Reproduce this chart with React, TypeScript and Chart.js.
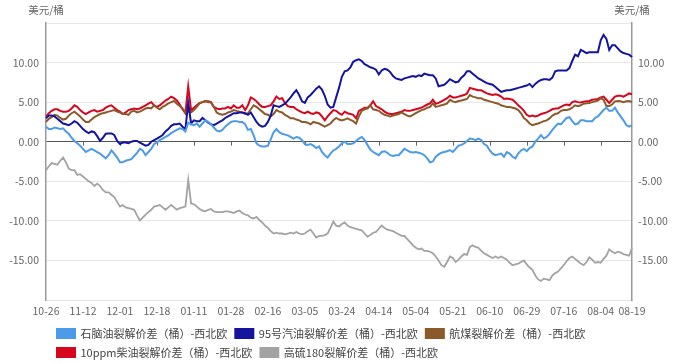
import React, { useEffect, useRef } from 'react';
import { Chart, registerables } from 'chart.js';

Chart.register(...registerables);

const FONT = "'Microsoft YaHei', 'Noto Sans CJK SC', 'Noto Sans', sans-serif";

// x-axis tick labels: one every 13 trading days, plus the final day
const tickLabels = ['10-26', '11-12', '12-01', '12-18', '01-11', '01-28', '02-16', '03-05', '03-24', '04-14', '05-04', '05-21', '06-10', '06-29', '07-16', '08-04'];
const lastLabel = '08-19';
const pointsPerTick = 13;
const totalPoints = 207;
const unitLabel = '美元/桶';

const seriesNames = [
  '石脑油裂解价差（桶）-西北欧',
  '95号汽油裂解价差（桶）-西北欧',
  '航煤裂解价差（桶）-西北欧',
  '10ppm柴油裂解价差（桶）-西北欧',
  '高硫180裂解价差（桶）-西北欧',
];

const naphtha = [
  1.9, 1.6, 1.6, 1.8, 1.7, 1.6, 1.7, 1.3, 1.0, 0.5, 0.1, -0.2, -0.5,
  -0.9, -1.3, -1.1, -0.9, -1.1, -1.3, -1.5, -1.8, -2.1, -1.7, -1.1, -1.5, -2.0,
  -2.6, -2.6, -2.4, -2.3, -2.2, -1.8, -1.4, -0.9, -1.1, -1.7, -1.3, -0.9, -0.3,
  -0.1, 0.2, 0.4, 0.6, 0.8, 1.1, 1.3, 1.5, 1.7, 1.6, 1.3, 2.4, 2.2,
  2.1, 2.3, 1.9, 2.3, 2.7, 2.5, 2.2, 1.8, 1.4, 1.3, 1.5, 1.9, 2.2,
  2.5, 2.6, 2.6, 2.5, 2.5, 2.2, 1.5, 1.6, 0.8, -0.2, -0.5, -0.6, -0.6,
  -0.5, 0.3, 1.2, 1.6, 1.2, 1.0, 0.9, 0.8, 0.6, 0.4, 0.6, 0.5, 0.2,
  -0.3, -0.4, -0.3, -0.5, -0.8, -0.6, -1.3, -1.7, -2.0, -1.5, -1.1, -0.9, -0.6,
  -0.2, 0.0, -0.3, -0.3, -0.2, 0.1, 0.4, 0.6, 0.2, -0.4, -1.0, -1.3, -1.5,
  -1.7, -1.3, -1.2, -1.4, -1.7, -1.8, -1.7, -1.7, -1.3, -0.9, -1.1, -1.3, -1.35,
  -1.3, -1.4, -1.5, -1.7, -2.1, -2.6, -2.5, -1.9, -1.6, -1.4, -1.3, -1.2, -1.05,
  -1.3, -0.9, -0.5, -0.4, -0.2, 0.1, 0.4, 0.35, 0.2, 0.4, 0.2, -0.3, -0.5,
  -1.1, -1.5, -1.7, -1.6, -1.5, -1.9, -1.3, -1.5, -1.9, -2.1, -1.5, -1.1, -0.9,
  -1.2, -0.8, -0.6, 0.0, 0.4, 0.85, 0.4, 0.6, 1.0, 1.5, 1.9, 2.3, 2.2,
  2.6, 3.0, 3.1, 2.6, 2.2, 2.3, 2.7, 2.7, 2.6, 2.6, 2.6, 3.0, 3.2,
  3.6, 4.0, 4.3, 3.9, 3.9, 4.3, 3.7, 3.2, 2.7, 2.1, 1.9, 2.1,
];

const gasoline95 = [
  2.95, 3.3, 3.3, 3.2, 2.9, 2.6, 2.3, 2.2, 2.1, 2.3, 2.6, 2.4, 2.0,
  1.6, 1.3, 1.1, 1.3, 1.2, 0.7, 0.1, 0.5, 1.0, 1.05, 1.05, 0.85, 0.1,
  -0.3, -0.1, -0.1, -0.2, 0.0, 0.1, 0.1, -0.1, -0.3, -0.5, -0.4, 0.0, 0.2,
  0.4, 0.6, 0.85, 1.3, 1.6, 2.0, 2.2, 2.2, 2.3, 1.9, 1.6, 4.9, 2.3,
  2.7, 2.6, 2.6, 3.0, 2.7, 2.4, 2.2, 2.1, 2.3, 2.5, 2.7, 3.0, 3.2,
  3.4, 3.6, 3.6, 3.7, 3.7, 3.6, 3.4, 3.7, 3.1, 2.5, 2.1, 1.9, 2.0,
  2.5, 3.3, 4.6, 4.5, 4.4, 4.6, 4.8, 5.2, 5.6, 6.1, 6.5, 5.9, 5.1,
  4.9, 5.6, 5.9, 6.3, 6.7, 7.0, 6.6, 5.8, 4.7, 4.3, 4.4, 5.6, 6.8,
  8.2, 8.9, 9.0, 9.4, 10.1, 10.3, 10.4, 10.2, 9.8, 9.6, 9.4, 9.3, 9.1,
  8.5, 9.0, 9.2, 9.1, 8.8, 8.3, 8.0, 7.9, 7.8, 8.0, 8.1, 8.2, 8.3,
  8.2, 8.4, 8.3, 8.6, 8.5, 8.4, 8.4, 8.0, 7.0, 7.1, 7.2, 7.5, 7.9,
  7.7, 7.5, 7.6, 8.1, 8.4, 8.9, 8.9, 8.6, 8.3, 8.0, 7.8, 7.6, 7.4,
  7.3, 7.2, 6.9, 6.6, 6.3, 6.4, 6.5, 6.5, 6.6, 6.7, 6.8, 6.9, 7.0,
  7.1, 7.3, 6.9, 7.3, 7.6, 7.8, 7.9, 7.9, 7.8, 8.1, 8.9, 9.0, 9.0,
  9.0, 9.0, 9.3, 10.2, 11.0, 10.8, 11.6, 11.4, 11.2, 11.3, 11.3, 11.3, 11.3,
  12.8, 13.5, 13.0, 11.6, 12.2, 12.2, 11.8, 11.4, 11.2, 11.1, 11.0, 10.7,
];

const jetFuel = [
  2.5, 2.9, 3.1, 3.4, 3.3, 3.0, 2.8, 2.9, 3.3, 3.6, 3.8, 3.5, 3.2,
  2.8, 2.5, 2.5, 2.8, 3.1, 3.3, 3.5, 3.6, 3.7, 3.8, 3.9, 4.0, 3.8,
  3.7, 3.5, 3.5, 3.4, 3.8, 3.9, 3.7, 3.8, 4.0, 4.2, 4.3, 4.2, 4.6,
  4.3, 4.1, 4.4, 4.6, 4.85, 5.0, 5.15, 4.8, 4.5, 4.2, 3.7, 3.8, 3.7,
  4.0, 4.4, 4.85, 5.0, 5.15, 5.0, 5.0, 4.4, 3.7, 3.5, 3.4, 3.5, 3.7,
  3.8, 4.0, 3.9, 3.8, 3.7, 3.5, 3.6, 4.1, 4.6, 4.4, 4.1, 3.8, 3.5,
  3.4, 3.2, 3.5, 4.0, 3.8, 3.7, 3.4, 3.2, 2.95, 2.95, 2.8, 2.7, 2.5,
  2.5, 2.4, 2.2, 2.5, 2.4, 2.3, 2.1, 1.9, 2.1, 2.3, 2.7, 3.0, 2.8,
  2.7, 2.8, 2.95, 2.75, 2.6, 2.3, 3.2, 3.9, 4.1, 4.2, 4.6, 4.1, 4.0,
  3.9, 3.6, 3.4, 3.3, 3.2, 3.3, 3.4, 3.5, 3.7, 3.5, 3.3, 3.2, 3.4,
  3.6, 3.8, 4.0, 4.1, 4.3, 4.4, 4.85, 4.4, 4.5, 4.6, 4.7, 4.85, 5.3,
  5.1, 5.0, 5.15, 5.2, 5.3, 5.4, 5.9, 5.7, 5.6, 5.5, 5.5, 5.3, 5.2,
  5.1, 5.0, 4.9, 4.8, 4.6, 4.5, 4.4, 4.4, 4.3, 4.2, 4.0, 3.6, 3.0,
  2.7, 2.3, 2.1, 2.2, 2.3, 2.45, 2.6, 2.7, 2.95, 3.3, 3.5, 3.6, 3.9,
  4.0, 4.0, 4.1, 4.3, 4.6, 4.5, 4.6, 4.8, 4.85, 4.9, 5.0, 5.1, 5.2,
  5.5, 5.3, 4.5, 4.5, 4.7, 5.1, 5.15, 5.1, 5.0, 5.1, 5.15, 5.0,
];

const diesel10ppm = [
  3.2, 3.6, 3.9, 4.1, 4.1, 3.9, 3.8, 3.8, 3.9, 4.2, 4.6, 4.4, 4.0,
  3.7, 3.5, 3.7, 3.9, 4.0, 3.8, 3.9, 4.0, 4.3, 4.5, 4.6, 4.3, 4.0,
  3.8, 3.5, 3.7, 4.0, 4.1, 4.2, 4.1, 4.2, 4.4, 4.6, 4.8, 5.0, 4.6,
  4.4, 4.6, 4.9, 5.2, 5.4, 5.7, 5.5, 5.2, 4.7, 4.1, 3.6, 7.0, 4.0,
  4.3, 4.6, 4.9, 5.0, 5.1, 5.1, 5.0, 4.4, 4.2, 4.1, 4.2, 4.2, 4.4,
  4.2, 4.6, 4.3, 4.3, 4.6, 4.0, 4.6, 5.6, 5.4, 5.1, 4.7, 4.4, 4.4,
  4.5, 4.6, 5.1, 5.7, 5.4, 5.5, 4.9, 4.5, 4.4, 4.4, 4.1, 3.9, 3.7,
  3.6, 3.8, 3.6, 3.5, 3.7, 3.6, 3.2, 2.7, 3.2, 3.6, 4.0, 3.9, 3.6,
  3.4, 3.8, 3.6, 3.5, 3.4, 2.95, 3.9, 4.1, 4.3, 4.25, 4.6, 5.1, 4.5,
  4.3, 4.1, 3.8, 3.6, 3.5, 3.5, 3.6, 3.7, 3.8, 4.0, 3.9, 3.9, 4.0,
  4.1, 4.2, 4.3, 4.5, 4.7, 4.85, 5.3, 4.8, 4.9, 5.1, 5.3, 5.5, 5.8,
  5.6, 5.6, 5.7, 5.8, 5.9, 6.1, 6.8, 6.7, 6.6, 6.5, 6.5, 6.3, 6.1,
  6.0, 5.9, 6.0, 5.9, 5.7, 5.4, 5.45, 5.4, 5.3, 5.0, 4.6, 4.3, 3.9,
  3.4, 3.2, 3.3, 3.2, 3.3, 3.5, 3.6, 3.7, 3.9, 4.1, 4.2, 4.2, 4.4,
  4.6, 4.7, 4.6, 5.0, 5.1, 5.0, 4.95, 5.05, 5.1, 5.15, 5.3, 5.35, 5.4,
  5.6, 5.7, 5.3, 4.9, 5.3, 5.7, 5.8, 5.8, 5.7, 5.9, 6.1, 6.0,
];

const hsfo180 = [
  -3.6, -3.1, -2.7, -2.8, -2.9, -2.4, -2.0, -2.6, -3.4, -3.6, -3.6, -4.2, -4.1,
  -4.4, -4.7, -5.0, -5.2, -5.6, -5.3, -5.6, -6.1, -6.4, -6.4, -6.7, -7.0, -7.6,
  -8.2, -8.0, -8.3, -8.4, -8.5, -8.6, -9.3, -9.95, -9.6, -9.2, -8.9, -8.6, -8.2,
  -8.1, -8.0, -8.3, -8.6, -8.3, -8.0, -8.3, -8.6, -8.4, -8.3, -8.2, -4.8, -7.8,
  -7.9, -8.2, -8.5, -8.7, -8.8, -8.6, -8.5, -8.8, -8.9, -8.9, -8.9, -8.8, -8.8,
  -8.9, -9.0, -8.8, -8.7, -9.0, -9.2, -9.3, -9.6, -9.7, -9.5, -9.9, -10.2, -10.6,
  -10.9, -11.3, -11.6, -11.5, -11.6, -11.6, -11.7, -11.6, -11.5, -11.6, -11.4, -11.6, -11.7,
  -11.6, -11.3, -11.1, -11.6, -12.1, -11.9, -11.9, -11.8, -11.6, -10.9, -10.1, -10.6, -10.7,
  -10.4, -10.2, -10.6, -10.8, -10.9, -11.0, -11.1, -11.2, -11.6, -12.0, -11.8, -11.5, -11.4,
  -11.0, -10.6, -10.9, -11.1, -11.2, -11.3, -11.5, -11.7, -11.9, -11.9, -12.3, -12.7, -13.1,
  -13.4, -13.6, -13.5, -13.8, -13.8, -13.9, -14.1, -14.5, -15.0, -15.6, -15.8, -15.2, -14.5,
  -14.7, -15.2, -14.9, -14.5, -14.2, -14.3, -13.3, -13.1, -13.3, -13.4, -13.8, -14.1, -14.3,
  -14.5, -14.7, -14.5, -14.7, -14.5, -14.7, -14.9, -15.3, -15.6, -15.5, -15.4, -15.2, -15.0,
  -15.5, -15.9, -16.2, -16.9, -17.4, -17.6, -17.3, -17.4, -17.5, -16.9, -16.6, -16.4, -16.0,
  -15.6, -15.1, -14.7, -14.5, -14.8, -15.1, -15.4, -15.6, -15.2, -14.6, -14.9, -15.3, -15.2,
  -15.3, -14.8, -14.4, -13.6, -13.9, -14.1, -13.9, -14.0, -14.2, -14.3, -14.4, -13.4,
];

const seriesColors = ['#4c9be8', '#14149e', '#8c5a2a', '#d7061f', '#a3a3a3'];
const seriesData = [naphtha, gasoline95, jetFuel, diesel10ppm, hsfo180];

const categories: string[] = Array.from({ length: totalPoints }, (_, i) => {
  if (i === totalPoints - 1) return lastLabel;
  if (i % pointsPerTick === 0 && i / pointsPerTick < tickLabels.length) return tickLabels[i / pointsPerTick];
  return '';
});

const yTick = (v: any) => {
  const n = Number(v);
  if (n === 15 || n === -20) return '';
  return n.toFixed(2);
};

const extrasPlugin = {
  id: 'extras',
  afterLayout(chart: any) {
    if (chart.legend) {
      chart.legend.left += 3;
      chart.legend.right += 3;
    }
  },
  beforeDatasetsDraw(chart: any) {
    const { ctx, scales } = chart;
    const x = scales.x;
    const y = scales.y;
    const y0 = y.getPixelForValue(0);
    ctx.save();
    ctx.strokeStyle = '#666';
    ctx.lineWidth = 1;
    categories.forEach((c, i) => {
      if (c && i > 0 && i < categories.length - 1) {
        const px = Math.round(x.getPixelForValue(i)) + 0.5;
        ctx.beginPath();
        ctx.moveTo(px, y0);
        ctx.lineTo(px, y0 + 4);
        ctx.stroke();
      }
    });
    ctx.restore();
  },
  afterDraw(chart: any) {
    const { ctx, chartArea } = chart;
    ctx.save();
    ctx.font = `10.5px ${FONT}`;
    ctx.fillStyle = '#666';
    ctx.textAlign = 'center';
    ctx.textBaseline = 'middle';
    ctx.fillText(unitLabel, chartArea.left, 10);
    ctx.fillText(unitLabel, chartArea.right, 10);
    ctx.restore();
  },
};

export default function App() {
  const ref = useRef<HTMLCanvasElement>(null);

  useEffect(() => {
    Chart.defaults.font.family = FONT;
    const chart = new Chart(ref.current as HTMLCanvasElement, {
      type: 'line',
      data: {
        labels: categories,
        datasets: seriesNames.map((name, k) => ({
          label: name,
          data: seriesData[k],
          borderColor: seriesColors[k],
          backgroundColor: seriesColors[k],
          borderWidth: k === 4 ? 1.8 : 2,
          pointRadius: 0,
          pointHoverRadius: 0,
          tension: 0,
          fill: false,
        })),
      },
      options: {
        responsive: false,
        animation: false,
        devicePixelRatio: 1,
        layout: { padding: { top: 23, left: 0, right: 0, bottom: 0 } },
        plugins: {
          tooltip: { enabled: false },
          legend: {
            position: 'bottom',
            align: 'start',
            fullSize: false,
            labels: {
              boxWidth: 18,
              boxHeight: 9,
              padding: 8,
              color: '#444',
              font: { size: 11, family: FONT },
            },
          },
        },
        scales: {
          x: {
            type: 'category',
            offset: false,
            grid: { display: false, drawTicks: false },
            border: { display: true, color: '#e3e3e3', width: 1 },
            afterFit: (s: any) => { s.height = 20; },
            ticks: {
              autoSkip: false,
              maxRotation: 0,
              minRotation: 0,
              padding: 5,
              color: '#666',
              font: { size: 10.5, family: FONT },
              callback: (_v: any, i: number) => categories[i],
            },
          },
          y: {
            position: 'left',
            min: -20,
            max: 15,
            afterFit: (s: any) => { s.width = 46; },
            grid: {
              drawTicks: false,
              color: (c: any) => (c.tick && c.tick.value === 0 ? '#555' : '#e6e6e6'),
              lineWidth: 1,
            },
            border: { display: true, color: '#9a9a9a', width: 1.5 },
            ticks: { stepSize: 5, padding: 7, color: '#666', font: { size: 10.5, family: FONT }, callback: yTick },
          },
          y2: {
            position: 'right',
            min: -20,
            max: 15,
            afterFit: (s: any) => { s.width = 44; },
            grid: { display: false, drawTicks: false },
            border: { display: true, color: '#9a9a9a', width: 1.5 },
            ticks: { stepSize: 5, padding: 6, color: '#666', font: { size: 10.5, family: FONT }, callback: yTick },
          },
        },
      },
      plugins: [extrasPlugin],
    } as any);
    return () => chart.destroy();
  }, []);

  return (
    <div style={{ position: 'fixed', left: 0, top: 0, width: 676, height: 368, background: '#fff' }}>
      <canvas ref={ref} width={676} height={368} style={{ display: 'block', width: 676, height: 368 }} />
    </div>
  );
}
